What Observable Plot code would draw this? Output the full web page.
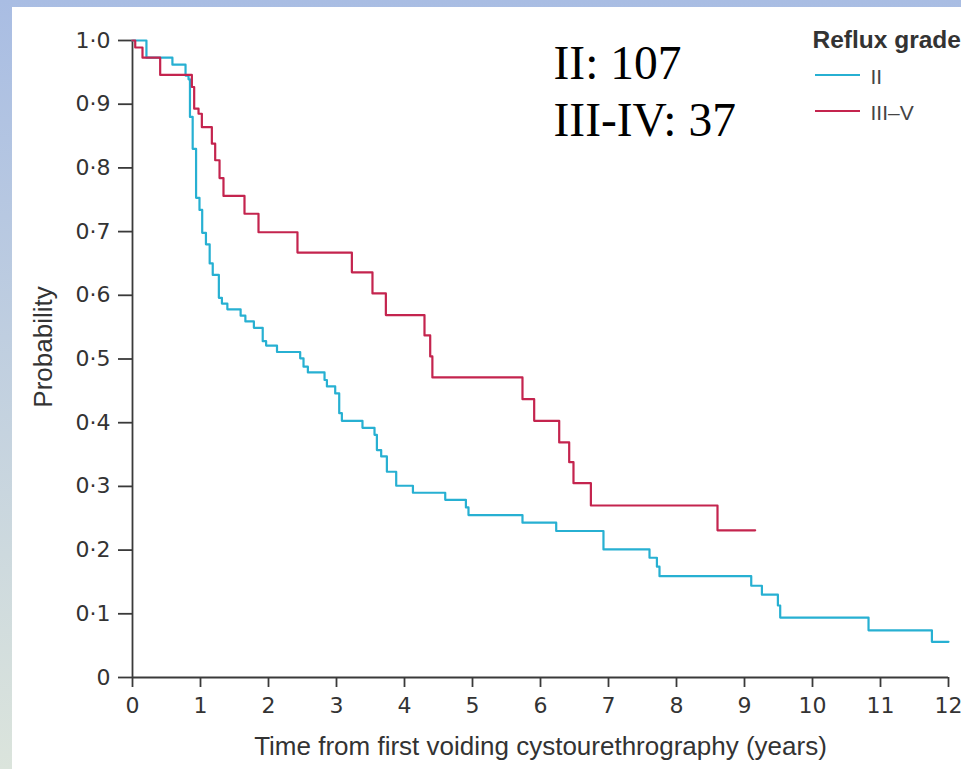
<!DOCTYPE html>
<html>
<head>
<meta charset="utf-8">
<script src="https://cdn.jsdelivr.net/npm/d3@7"></script>
<script src="https://cdn.jsdelivr.net/npm/@observablehq/plot@0.6"></script>
<style>
  body { margin: 0; background: #fff; }
  #wrap { position: relative; width: 961px; height: 769px; overflow: hidden;
          background: linear-gradient(#a9bde3, #dbe4dc); }
  #panel { position: absolute; left: 12px; top: 7px; right: 0; bottom: 0; background: #fff; }
  #chart { position: absolute; left: 0; top: 0; }
</style>
</head>
<body>
<div id="wrap"><div id="panel"></div><div id="chart"></div></div>
<script>
// ---- data ----
const seriesNames = ["II", "III–V"];
const seriesColors = ["#27b0d2", "#c4244e"];

// Reflux grade II (Kaplan–Meier step curve)
const timeII = [0, 0.205, 0.587, 0.78, 0.824, 0.845, 0.885, 0.935, 0.985, 1.025, 1.08, 1.135, 1.18, 1.27, 1.315, 1.395,
  1.59, 1.66, 1.785, 1.915, 1.965, 2.125, 2.466, 2.515, 2.579, 2.824, 2.859, 2.981, 3.04, 3.079, 3.382, 3.559, 3.594,
  3.657, 3.741, 3.878, 4.124, 4.599, 4.903, 4.941, 5.735, 6.231, 6.926, 7.603, 7.712, 7.75, 9.099, 9.256, 9.491, 9.525,
  10.824, 11.756, 12.0];
const probII = [1.0, 0.973, 0.962, 0.945, 0.939, 0.880, 0.830, 0.753, 0.734, 0.698, 0.680, 0.650, 0.632, 0.596, 0.587, 0.578,
  0.568, 0.559, 0.549, 0.528, 0.521, 0.511, 0.501, 0.488, 0.479, 0.467, 0.457, 0.446, 0.415, 0.403, 0.392, 0.381, 0.357,
  0.347, 0.323, 0.301, 0.290, 0.279, 0.267, 0.255, 0.243, 0.230, 0.201, 0.188, 0.174, 0.159, 0.144, 0.130, 0.113, 0.094,
  0.074, 0.056, 0.056];

// Reflux grade III–V
const timeIII = [0, 0.04, 0.147, 0.407, 0.873, 0.907, 0.971, 1.02, 1.167, 1.216, 1.28, 1.338, 1.647, 1.853, 2.426, 3.226,
  3.529, 3.726, 4.294, 4.378, 4.41, 5.735, 5.907, 6.275, 6.422, 6.485, 6.741, 8.603, 9.157];
const probIII = [1.0, 0.989, 0.973, 0.946, 0.927, 0.893, 0.885, 0.864, 0.838, 0.812, 0.784, 0.756, 0.728, 0.699, 0.667, 0.636,
  0.603, 0.569, 0.537, 0.504, 0.471, 0.437, 0.403, 0.369, 0.338, 0.305, 0.270, 0.231, 0.231];

const xTicks = [0, 1, 2, 3, 4, 5, 6, 7, 8, 9, 10, 11, 12];
const yTicks = [0, 0.1, 0.2, 0.3, 0.4, 0.5, 0.6, 0.7, 0.8, 0.9, 1.0];
const yTickLabels = ["0", "0·1", "0·2", "0·3", "0·4", "0·5", "0·6", "0·7", "0·8", "0·9", "1·0"];
const xTitle = "Time from first voiding cystourethrography (years)";
const yTitle = "Probability";
const legendTitle = "Reflux grade";
const noteLines = ["II: 107", "III-IV: 37"];

// ---- build table ----
const rows = [
  ...timeII.map((t, i) => ({t, p: probII[i], g: seriesNames[0]})),
  ...timeIII.map((t, i) => ({t, p: probIII[i], g: seriesNames[1]}))
];

const axisColor = "#3a3a3a";
const sans = "'Liberation Sans', Arial, sans-serif";
const tickFont = "'DejaVu Sans', sans-serif";
const serif = "'Liberation Serif', 'Times New Roman', serif";

const plot = Plot.plot({
  width: 961,
  height: 769,
  marginLeft: 132,
  marginRight: 13,
  marginTop: 40,
  marginBottom: 92,
  style: {background: "transparent"},
  x: {domain: [0, 12]},
  y: {domain: [0, 1]},
  color: {domain: seriesNames, range: seriesColors},
  marks: [
    Plot.axisX({ticks: xTicks, tickSize: 10, tickPadding: 10, label: null, stroke: axisColor, strokeWidth: 1.8,
      fontSize: 22, fontFamily: tickFont, fill: "#333", tickFormat: d => String(d)}),
    Plot.axisY({ticks: yTicks, tickSize: 14, tickPadding: 8, label: null, stroke: axisColor, strokeWidth: 1.8,
      fontSize: 22, fontFamily: tickFont, fill: "#333",
      tickFormat: d => yTickLabels[yTicks.findIndex(v => Math.abs(v - d) < 1e-9)]}),
    Plot.ruleY([0], {stroke: axisColor, strokeWidth: 1.8}),
    Plot.ruleX([0], {stroke: axisColor, strokeWidth: 1.8}),
    Plot.line(rows, {x: "t", y: "p", z: "g", stroke: "g", curve: "step-after", strokeWidth: 2.2}),
    Plot.text([xTitle], {frameAnchor: "bottom", dy: 69, textAnchor: "middle", lineAnchor: "middle", fontSize: 26,
      fontFamily: sans, fill: "#333"}),
    Plot.text([yTitle], {frameAnchor: "left", rotate: -90, dx: -89, dy: -12, textAnchor: "middle", lineAnchor: "middle",
      fontSize: 26, fontFamily: sans, fill: "#333"}),
    Plot.text([noteLines[0]], {frameAnchor: "top-left", dx: 421, dy: 38, textAnchor: "start", lineAnchor: "bottom",
      fontSize: 47.5, fontFamily: serif, fill: "#000"}),
    Plot.text([noteLines[1]], {frameAnchor: "top-left", dx: 421, dy: 95, textAnchor: "start", lineAnchor: "bottom",
      fontSize: 47.5, fontFamily: serif, fill: "#000"}),
    Plot.text([legendTitle], {frameAnchor: "top-left", dx: 680, dy: 7, textAnchor: "start", lineAnchor: "bottom",
      fontSize: 24.5, fontWeight: "bold", fontFamily: sans, fill: "#333"}),
    Plot.text([seriesNames[0]], {frameAnchor: "top-left", dx: 738, dy: 43, textAnchor: "start", lineAnchor: "bottom",
      fontSize: 21, fontFamily: sans, fill: "#444"}),
    Plot.text([seriesNames[1]], {frameAnchor: "top-left", dx: 738, dy: 79, textAnchor: "start", lineAnchor: "bottom",
      fontSize: 21, fontFamily: sans, fill: "#444"})
  ]
});

// legend swatches (decoration beside the legend labels)
const svg = d3.select(plot);
[75, 111].forEach((yy, i) => {
  svg.append("line").attr("x1", 815).attr("x2", 860).attr("y1", yy).attr("y2", yy)
    .attr("stroke", seriesColors[i]).attr("stroke-width", 2.2);
});

document.getElementById("chart").appendChild(plot);
</script>
</body>
</html>
